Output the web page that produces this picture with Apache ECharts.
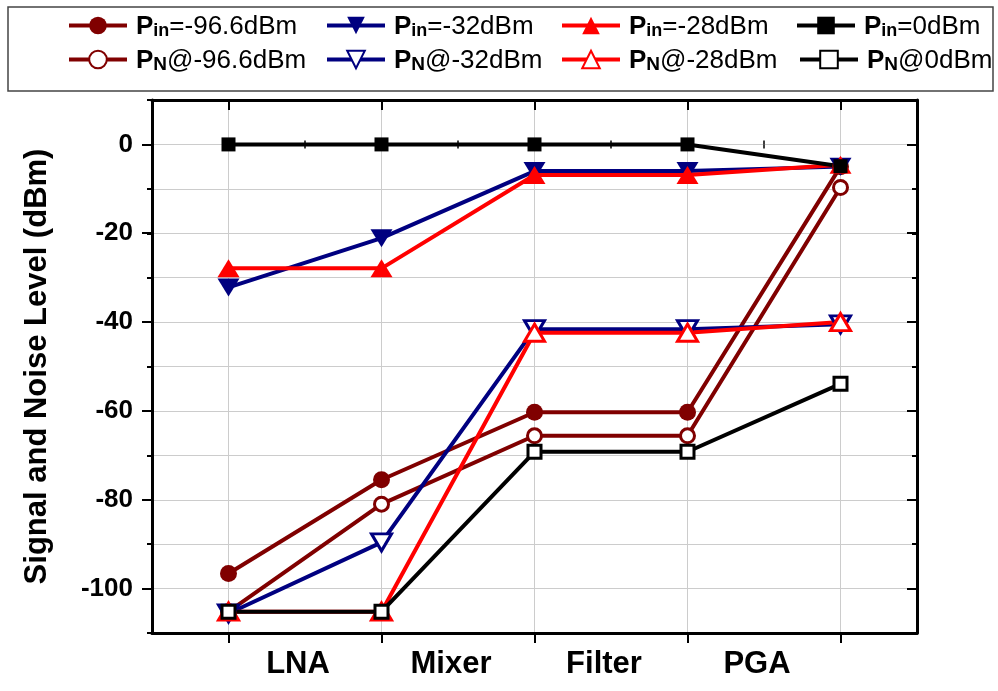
<!DOCTYPE html>
<html><head><meta charset="utf-8">
<script src="https://cdn.jsdelivr.net/npm/echarts@6/dist/echarts.min.js"></script>
<style>html,body{margin:0;padding:0;background:#fff}#c{width:998px;height:691px}</style>
</head><body><div id="c"></div>
<script>
// ---- data ----
const nodes = ['Input', 'LNA out', 'Mixer out', 'Filter out', 'PGA out'];
const stageLabels = ['', 'LNA', 'Mixer', 'Filter', 'PGA', ''];
const seriesNames = ['Pin=-96.6dBm', 'PN@-96.6dBm', 'Pin=-32dBm', 'PN@-32dBm', 'Pin=-28dBm', 'PN@-28dBm', 'Pin=0dBm', 'PN@0dBm'];
const pin966 = [-96.6, -75.5, -60.3, -60.3, -5];
const pn966 = [-105.2, -81.0, -65.6, -65.6, -9.7];
const pin32 = [-32.2, -21.1, -6.0, -6.0, -5.0];
const pn32 = [-105.6, -89.6, -41.6, -41.6, -40.5];
const pin28 = [-27.9, -27.9, -6.9, -6.9, -4.6];
const pn28 = [-105.2, -105.2, -42.4, -42.4, -40.0];
const pin0 = [0, 0, 0, 0, -4.9];
const pn0 = [-105.2, -105.2, -69.2, -69.2, -53.9];
const yMin = -110, yMax = 10, yMajorMin = -100, yMajorMax = 0;

// ---- styling ----
const FONT = 'Liberation Sans, Arial, Helvetica, sans-serif';
const DR = '#800000', NV = '#000080', RD = '#ff0000', BK = '#000000';
const GRID = {left: 152, right: 81, top: 100, bottom: 58};
const pxPerUnit = (691 - GRID.top - GRID.bottom) / (yMax - yMin);
const GRID2 = {left: 152, right: 81, top: GRID.top + (yMax - yMajorMax) * pxPerUnit, bottom: GRID.bottom + (yMajorMin - yMin) * pxPerUnit};

function mk(name, data, color, symbol, size, rotate, open) {
  return {
    name, type: 'line', data, xAxisIndex: 0, yAxisIndex: 0,
    symbol, symbolSize: size, symbolRotate: rotate, showAllSymbol: true,
    lineStyle: {color, width: 4},
    itemStyle: open ? {color: '#fff', borderColor: color, borderWidth: 3} : {color, borderColor: color, borderWidth: 0},
    emphasis: {disabled: true}, animation: false
  };
}
const series = [
  mk(seriesNames[0], pin966, DR, 'circle', 17, 0, false),
  mk(seriesNames[1], pn966, DR, 'circle', 14, 0, true),
  mk(seriesNames[2], pin32, NV, 'triangle', [22, 18], 180, false),
  mk(seriesNames[3], pn32, NV, 'triangle', [20, 17], 180, true),
  mk(seriesNames[4], pin28, RD, 'triangle', [22, 18], 0, false),
  mk(seriesNames[5], pn28, RD, 'triangle', [20, 17], 0, true),
  mk(seriesNames[6], pin0, BK, 'rect', 14, 0, false),
  mk(seriesNames[7], pn0, BK, 'rect', 13, 0, true)
];

const rich = {
  p: {fontSize: 26, fontWeight: 'bold', fontFamily: FONT, color: '#000', verticalAlign: 'bottom', lineHeight: 29},
  s: {fontSize: 18, fontWeight: 'bold', fontFamily: FONT, color: '#000', verticalAlign: 'bottom', lineHeight: 23},
  n: {fontSize: 19, fontWeight: 'bold', fontFamily: FONT, color: '#000', verticalAlign: 'bottom', lineHeight: 26},
  t: {fontSize: 26, fontFamily: FONT, color: '#000', verticalAlign: 'bottom', lineHeight: 29}
};
function fmt(name) {
  if (name.indexOf('Pin') === 0) return '{p|P}{s|in}{t|' + name.slice(3) + '}';
  return '{p|P}{n|N}{t|' + name.slice(2) + '}';
}
const legendPos = [
  [67, 14], [67, 48], [325, 14], [325, 48], [560, 14], [560, 48], [795, 14], [798, 48]
];
const legends = seriesNames.map((n, i) => ({
  data: [n], left: legendPos[i][0], top: legendPos[i][1], padding: 0,
  itemWidth: 58, itemHeight: 22, itemGap: 0, selectedMode: false,
  lineStyle: {width: 4},
  formatter: fmt, textStyle: {rich, fontFamily: FONT, padding: [0, 0, 0, 4]}
}));

const axisLine = {show: true, onZero: false, lineStyle: {color: '#000', width: 3}};
const gridLine = {show: true, lineStyle: {color: '#cccccc', width: 1}};

const option = {
  animation: false,
  backgroundColor: '#fff',
  graphic: [{type: 'rect', shape: {x: 8, y: 7, width: 985, height: 84}, style: {fill: 'none', stroke: '#444', lineWidth: 1.5}, silent: true}],
  legend: legends,
  grid: [
    Object.assign({containLabel: false}, GRID),
    Object.assign({containLabel: false}, GRID2)
  ],
  xAxis: [
    {gridIndex: 0, type: 'category', data: nodes, boundaryGap: true, position: 'bottom',
     axisLine, axisTick: {show: true, alignWithLabel: true, inside: false, length: 10, lineStyle: {width: 2, color: '#000'}},
     axisLabel: {show: false}, splitLine: Object.assign({alignWithLabel: true}, gridLine)},
    {gridIndex: 0, type: 'category', data: stageLabels, boundaryGap: false, position: 'bottom',
     axisLine: {show: false}, axisTick: {show: true, inside: true, length: 4, lineStyle: {width: 1.5, color: '#000'}},
     axisLabel: {show: true, interval: 0, fontSize: 31, fontWeight: 'bold', fontFamily: FONT, color: '#000', margin: 16, padding: [0, 14, 0, 0]},
     splitLine: {show: false}},
    {gridIndex: 0, type: 'category', data: nodes, boundaryGap: true, position: 'top',
     axisLine, axisTick: {show: true, alignWithLabel: true, inside: true, length: 10, lineStyle: {width: 2, color: '#000'}},
     axisLabel: {show: false}, splitLine: {show: false}},
    {gridIndex: 0, type: 'category', data: stageLabels, boundaryGap: false, position: 'top',
     axisLine: {show: false}, axisTick: {show: true, inside: true, length: 4, lineStyle: {width: 1.5, color: '#000'}},
     axisLabel: {show: false}, splitLine: {show: false}},
    {gridIndex: 1, type: 'category', data: nodes, show: false}
  ],
  yAxis: [
    {gridIndex: 0, type: 'value', min: yMin, max: yMax, interval: 10, position: 'left',
     axisLine, axisTick: {show: true, inside: false, length: 5, lineStyle: {width: 2, color: '#000'}},
     axisLabel: {show: false}, splitLine: gridLine,
     name: 'Signal and Noise Level (dBm)', nameLocation: 'middle', nameGap: 99, nameRotate: 90,
     nameTruncate: {maxWidth: 2000},
     nameTextStyle: {fontSize: 31, fontWeight: 'bold', fontFamily: FONT, color: '#000'}},
    {gridIndex: 0, type: 'value', min: yMin, max: yMax, interval: 10, position: 'right',
     axisLine, axisTick: {show: true, inside: true, length: 5, lineStyle: {width: 2, color: '#000'}},
     axisLabel: {show: false}, splitLine: {show: false}},
    {gridIndex: 1, type: 'value', min: yMajorMin, max: yMajorMax, interval: 20, position: 'left',
     axisLine: {show: false}, axisTick: {show: true, inside: false, length: 10, lineStyle: {width: 2, color: '#000'}},
     axisLabel: {show: true, fontSize: 26, fontWeight: 'bold', fontFamily: FONT, color: '#000', margin: 19},
     splitLine: {show: false}},
    {gridIndex: 1, type: 'value', min: yMajorMin, max: yMajorMax, interval: 20, position: 'right',
     axisLine: {show: false}, axisTick: {show: true, inside: true, length: 10, lineStyle: {width: 2, color: '#000'}},
     axisLabel: {show: false}, splitLine: {show: false}}
  ],
  series
};
const chart = echarts.init(document.getElementById('c'), null, {renderer: 'canvas'});
chart.setOption(option);
</script></body></html>
